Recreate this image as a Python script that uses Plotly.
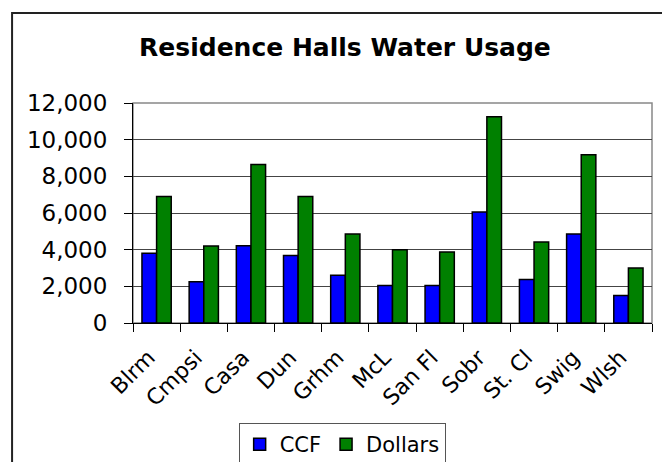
import plotly.graph_objects as go

categories = ["Blrm", "Cmpsi", "Casa", "Dun", "Grhm", "McL", "San Fl", "Sobr", "St. Cl", "Swig", "Wlsh"]
ccf = [3800, 2250, 4220, 3680, 2600, 2050, 2050, 6050, 2370, 4850, 1500]
dollars = [6900, 4200, 8650, 6900, 4850, 4000, 3870, 11250, 4420, 9180, 3000]
y_ticks = [0, 2000, 4000, 6000, 8000, 10000, 12000]

FONT = "DejaVu Sans"

fig = go.Figure()
fig.add_trace(go.Bar(x=categories, y=ccf, name="CCF",
                     marker=dict(color="#0000FF", line=dict(color="black", width=1.5))))
fig.add_trace(go.Bar(x=categories, y=dollars, name="Dollars",
                     marker=dict(color="#008000", line=dict(color="black", width=1.5))))

# page body has an 8px margin, so the figure is 8px smaller and shifted
fig.update_layout(
    width=662, height=454,
    margin=dict(l=125, r=18, t=95, b=139, autoexpand=False),
    paper_bgcolor="white", plot_bgcolor="white",
    font=dict(family=FONT, color="black", size=21),
    barmode="group", bargap=0.38, bargroupgap=0,
    title=dict(text="<b>Residence Halls Water Usage</b>", x=0.509, xanchor="center",
               y=0.914, yanchor="middle", xref="container", yref="container",
               font=dict(family=FONT, size=25, color="black")),
    legend=dict(orientation="h", x=0.403, xanchor="center", y=-0.455, yanchor="top",
                bordercolor="#555", borderwidth=1, bgcolor="white",
                font=dict(family=FONT, size=21), itemwidth=30, tracegroupgap=0),
    showlegend=True,
)
fig.update_xaxes(
    automargin=False,
    tickangle=-45, tickson="boundaries", ticks="outside", ticklen=8, tickcolor="black",
    showline=True, linecolor="black", linewidth=1, showgrid=False,
    ticklabelshift=-8, ticklabelstandoff=12,
    tickfont=dict(family=FONT, size=22),
)
fig.update_yaxes(
    automargin=False,
    range=[0, 12000], tickvals=y_ticks, tickformat=",", ticks="outside", ticklen=8,
    tickcolor="black", showline=True, linecolor="black", linewidth=1,
    showgrid=True, gridcolor="#444", gridwidth=1, zeroline=False,
    ticklabelstandoff=12,
    tickfont=dict(family=FONT, size=23),
)
# plot area frame (top/right gray)
fig.add_shape(type="rect", xref="paper", yref="paper", x0=0, x1=1, y0=0, y1=1,
              line=dict(color="#888", width=1.5), layer="below")
# outer chart border
fig.add_shape(type="rect", xref="paper", yref="paper", x0=-0.233, x1=1.025, y0=-0.66, y1=1.409,
              line=dict(color="#222", width=2))

fig.write_html("out.html")
